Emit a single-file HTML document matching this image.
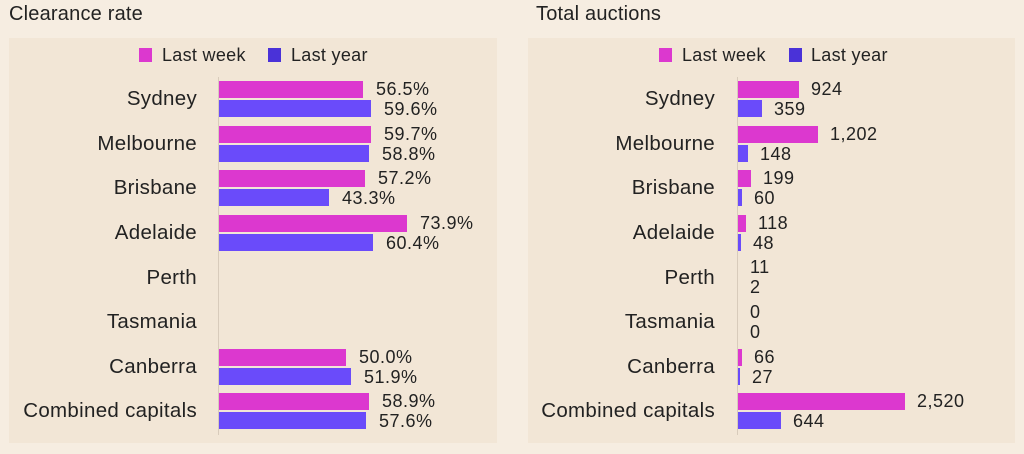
<!DOCTYPE html>
<html><head><meta charset="utf-8"><style>
body{margin:0;width:1024px;height:454px;background:#f6ede1;font-family:"Liberation Sans",sans-serif;color:#222;position:relative;overflow:hidden}
.a{position:absolute;white-space:nowrap}
.t{font-size:20px;top:3px;letter-spacing:0.2px}
.p{position:absolute;background:#f2e6d6;top:38px;height:405px}
.pk{position:absolute;background:#dc38cf;height:17px}
.bl{position:absolute;background:#6a4bfa;height:17px}
.v{position:absolute;font-size:18px;line-height:17px;white-space:nowrap;letter-spacing:0.5px}
.c{position:absolute;font-size:20.5px;line-height:20px;text-align:right;white-space:nowrap;letter-spacing:0.3px}
.ax{position:absolute;width:1px;background:#d8cbbb;top:77px;height:358px}
.lg{position:absolute;font-size:18px;line-height:16px;top:47px;letter-spacing:0.3px}
.sq{position:absolute;width:13px;height:14px;top:48px}
</style></head><body>
<div class="a t" style="left:9px">Clearance rate</div>
<div class="a t" style="left:536px">Total auctions</div>
<div class="p" style="left:9px;width:488px"></div>
<div class="p" style="left:528px;width:487px"></div>

<div class="sq" style="left:139px;background:#dc38cf"></div><div class="lg" style="left:162px">Last week</div>
<div class="sq" style="left:268px;background:#4a32d8"></div><div class="lg" style="left:291px">Last year</div>
<div class="sq" style="left:659px;background:#dc38cf"></div><div class="lg" style="left:682px">Last week</div>
<div class="sq" style="left:789px;background:#4a32d8"></div><div class="lg" style="left:811px">Last year</div>

<div class="ax" style="left:218px"></div>
<div class="ax" style="left:737px"></div>

<div class="c" style="right:827px;top:89px">Sydney</div>
<div class="c" style="right:827px;top:134px">Melbourne</div>
<div class="c" style="right:827px;top:178px">Brisbane</div>
<div class="c" style="right:827px;top:223px">Adelaide</div>
<div class="c" style="right:827px;top:268px">Perth</div>
<div class="c" style="right:827px;top:312px">Tasmania</div>
<div class="c" style="right:827px;top:357px">Canberra</div>
<div class="c" style="right:827px;top:401px">Combined capitals</div>

<div class="c" style="right:309px;top:89px">Sydney</div>
<div class="c" style="right:309px;top:134px">Melbourne</div>
<div class="c" style="right:309px;top:178px">Brisbane</div>
<div class="c" style="right:309px;top:223px">Adelaide</div>
<div class="c" style="right:309px;top:268px">Perth</div>
<div class="c" style="right:309px;top:312px">Tasmania</div>
<div class="c" style="right:309px;top:357px">Canberra</div>
<div class="c" style="right:309px;top:401px">Combined capitals</div>

<div class="pk" style="left:219px;top:81px;width:144px"></div><div class="v" style="left:376px;top:81px">56.5%</div>
<div class="bl" style="left:219px;top:100px;width:152px"></div><div class="v" style="left:384px;top:101px">59.6%</div>
<div class="pk" style="left:219px;top:126px;width:152px"></div><div class="v" style="left:384px;top:126px">59.7%</div>
<div class="bl" style="left:219px;top:145px;width:150px"></div><div class="v" style="left:382px;top:146px">58.8%</div>
<div class="pk" style="left:219px;top:170px;width:146px"></div><div class="v" style="left:378px;top:170px">57.2%</div>
<div class="bl" style="left:219px;top:189px;width:110px"></div><div class="v" style="left:342px;top:190px">43.3%</div>
<div class="pk" style="left:219px;top:215px;width:188px"></div><div class="v" style="left:420px;top:215px">73.9%</div>
<div class="bl" style="left:219px;top:234px;width:154px"></div><div class="v" style="left:386px;top:235px">60.4%</div>
<div class="pk" style="left:219px;top:349px;width:127px"></div><div class="v" style="left:359px;top:349px">50.0%</div>
<div class="bl" style="left:219px;top:368px;width:132px"></div><div class="v" style="left:364px;top:369px">51.9%</div>
<div class="pk" style="left:219px;top:393px;width:150px"></div><div class="v" style="left:382px;top:393px">58.9%</div>
<div class="bl" style="left:219px;top:412px;width:147px"></div><div class="v" style="left:379px;top:413px">57.6%</div>

<div class="pk" style="left:738px;top:81px;width:61px"></div><div class="v" style="left:811px;top:81px">924</div>
<div class="bl" style="left:738px;top:100px;width:24px"></div><div class="v" style="left:774px;top:101px">359</div>
<div class="pk" style="left:738px;top:126px;width:80px"></div><div class="v" style="left:830px;top:126px">1,202</div>
<div class="bl" style="left:738px;top:145px;width:10px"></div><div class="v" style="left:760px;top:146px">148</div>
<div class="pk" style="left:738px;top:170px;width:13px"></div><div class="v" style="left:763px;top:170px">199</div>
<div class="bl" style="left:738px;top:189px;width:4px"></div><div class="v" style="left:754px;top:190px">60</div>
<div class="pk" style="left:738px;top:215px;width:8px"></div><div class="v" style="left:758px;top:215px">118</div>
<div class="bl" style="left:738px;top:234px;width:3px"></div><div class="v" style="left:753px;top:235px">48</div>
<div class="v" style="left:750px;top:259px">11</div>
<div class="v" style="left:750px;top:279px">2</div>
<div class="v" style="left:750px;top:304px">0</div>
<div class="v" style="left:750px;top:324px">0</div>
<div class="pk" style="left:738px;top:349px;width:4px"></div><div class="v" style="left:754px;top:349px">66</div>
<div class="bl" style="left:738px;top:368px;width:2px"></div><div class="v" style="left:752px;top:369px">27</div>
<div class="pk" style="left:738px;top:393px;width:167px"></div><div class="v" style="left:917px;top:393px">2,520</div>
<div class="bl" style="left:738px;top:412px;width:43px"></div><div class="v" style="left:793px;top:413px">644</div>
</body></html>
